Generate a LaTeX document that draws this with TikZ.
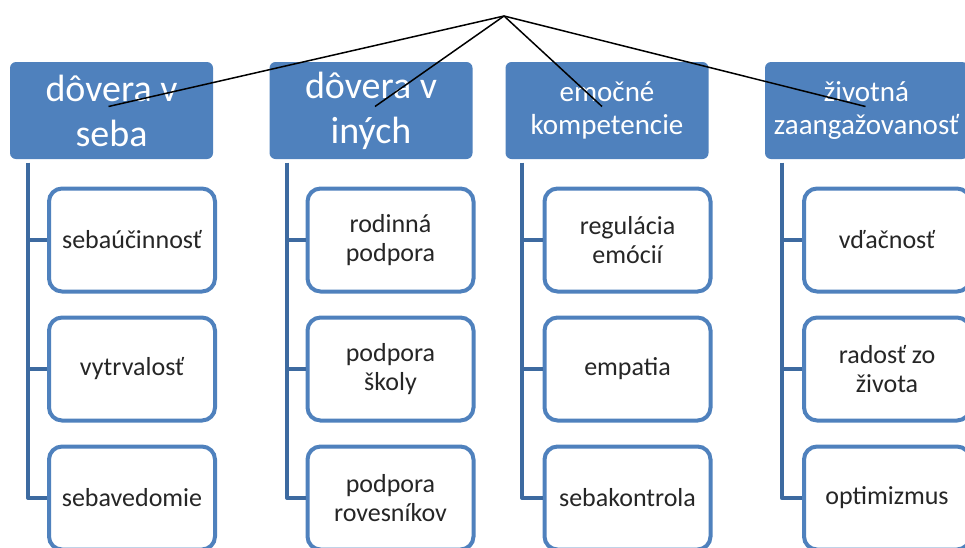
\documentclass[tikz,border=0pt]{standalone}
\usepackage{fontspec}
\setmainfont{Carlito}
\usepackage{xcolor}
\definecolor{hlmodra}{HTML}{4F81BD}
\definecolor{okraj}{HTML}{4F81BD}
\definecolor{kmenmodra}{HTML}{3D6AA0}
\definecolor{textseda}{HTML}{262626}
\tikzset{
	hlavny/.style={fill=hlmodra, rounded corners=6pt, minimum width=203pt, minimum height=97pt, inner sep=0pt, text=white, align=center},
	velky/.style={font=\fontsize{38}{45}\selectfont},
	maly/.style={font=\fontsize{29}{33}\selectfont},
	podbox/.style={draw=okraj, line width=4pt, fill=white, rounded corners=13pt, minimum width=166pt, minimum height=103pt, inner sep=0pt, align=center, text=textseda, font=\fontsize{26}{29}\selectfont},
	kmen/.style={draw=kmenmodra, line width=4pt, line join=round},
	luc/.style={draw=black, line width=1.5pt}
}
\begin{document}
\begin{tikzpicture}[x=1pt, y=-1pt]
	\useasboundingbox (0,0) rectangle (965,547);
	\clip (0,0) rectangle (965,547);

		\node[hlavny, velky] (h1) at (111.5,110.5) {dôvera v\\seba};
		\node[hlavny, velky] (h2) at (371,110.5) {dôvera v\\iných};
		\node[hlavny, maly] (h3) at (607,110.5) {emočné\\kompetencie};
		\node[hlavny, maly] (h4) at (866.5,110.5) {životná\\zaangažovanosť};

		\node[podbox] (c11) at (132,240) {sebaúčinnosť};
		\node[podbox] (c12) at (132,369) {vytrvalosť};
		\node[podbox] (c13) at (132,498) {sebavedomie};

		\node[podbox] (c21) at (390.5,240) {rodinná\\podpora};
		\node[podbox] (c22) at (390.5,369) {podpora\\školy};
		\node[podbox] (c23) at (390.5,498) {podpora\\rovesníkov};

		\node[podbox] (c31) at (627.5,240) {regulácia\\emócií};
		\node[podbox] (c32) at (627.5,369) {empatia};
		\node[podbox] (c33) at (627.5,498) {sebakontrola};

		\node[podbox] (c41) at (887,240) {vďačnosť};
		\node[podbox] (c42) at (887,369) {radosť zo\\života};
		\node[podbox] (c43) at (887,498) {optimizmus};

		\coordinate (k1) at ([xshift=18.5pt, yshift=-3.5pt]h1.south west);
		\coordinate (k2) at ([xshift=18pt, yshift=-3.5pt]h2.south west);
		\coordinate (k3) at ([xshift=17pt, yshift=-3.5pt]h3.south west);
		\coordinate (k4) at ([xshift=17pt, yshift=-3.5pt]h4.south west);

		\draw[kmen] (k1) |- (c13.west);
		\draw[kmen] (k1 |- c11.west) -- (c11.west);
		\draw[kmen] (k1 |- c12.west) -- (c12.west);
		\draw[kmen] (k2) |- (c23.west);
		\draw[kmen] (k2 |- c21.west) -- (c21.west);
		\draw[kmen] (k2 |- c22.west) -- (c22.west);
		\draw[kmen] (k3) |- (c33.west);
		\draw[kmen] (k3 |- c31.west) -- (c31.west);
		\draw[kmen] (k3 |- c32.west) -- (c32.west);
		\draw[kmen] (k4) |- (c43.west);
		\draw[kmen] (k4 |- c41.west) -- (c41.west);
		\draw[kmen] (k4 |- c42.west) -- (c42.west);

		\coordinate (vrchol) at (504,16);
		\draw[luc] (vrchol) -- ([shift={(-3pt,4pt)}]h1.center);
		\draw[luc] (vrchol) -- ([shift={(4pt,4pt)}]h2.center);
		\draw[luc] (vrchol) -- ([shift={(-5pt,4pt)}]h3.center);
		\draw[luc] (vrchol) -- ([shift={(-1pt,4pt)}]h4.center);
	\end{tikzpicture}
\end{document}
